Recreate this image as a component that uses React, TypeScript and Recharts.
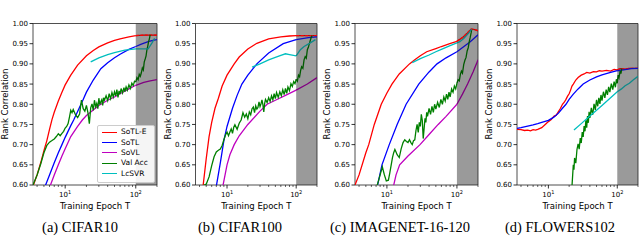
import React from 'react';
import { LineChart, Line, XAxis, YAxis, ReferenceArea } from 'recharts';

type Pt = [number, number];

const xTicks = [4, 5, 6, 7, 8, 9, 10, 20, 30, 40, 50, 60, 70, 80, 90, 100, 200];
const yTicks = [0.6, 0.65, 0.7, 0.75, 0.8, 0.85, 0.9, 0.95, 1.0];

// (a) CIFAR10
const c10SoTLE: Pt[] = [[3.5,0.597],[4,0.625],[4.5,0.655],[5,0.685],[5.5,0.71],[6,0.738],[6.5,0.762],[7,0.78],[8,0.808],[9,0.83],[10,0.848],[12,0.872],[15,0.897],[20,0.92],[25,0.933],[30,0.942],[40,0.952],[50,0.958],[60,0.962],[80,0.967],[100,0.97],[130,0.971],[160,0.971],[200,0.971]];
const c10SoTL: Pt[] = [[5.2,0.597],[6,0.625],[7,0.655],[8,0.68],[9,0.7],[10,0.718],[12,0.747],[13.2,0.761],[15,0.782],[18,0.812],[20,0.83],[25,0.86],[32,0.888],[40,0.903],[50,0.915],[60,0.924],[80,0.936],[100,0.943],[120,0.949],[150,0.955],[175,0.958],[200,0.96]];
const c10SoVL: Pt[] = [[6.1,0.597],[7,0.625],[8,0.65],[9,0.672],[10,0.69],[12,0.72],[15,0.745],[17.5,0.761],[20,0.772],[25,0.786],[30,0.797],[40,0.81],[50,0.818],[60,0.826],[80,0.838],[100,0.847],[130,0.854],[160,0.858],[200,0.861]];
const c10ValAcc: Pt[] = [[3.5,0.6],[4,0.625],[4.5,0.652],[5,0.68],[5.5,0.698],[6,0.706],[6.5,0.71],[7,0.714],[7.5,0.72],[8,0.727],[8.5,0.722],[9,0.728],[9.5,0.733],[10,0.741],[10.5,0.745],[11,0.752],[11.5,0.768],[12,0.785],[12.5,0.779],[13,0.787],[14,0.774],[15,0.767],[16,0.776],[17,0.81],[18,0.789],[19,0.783],[20,0.797],[21,0.779],[22,0.752],[23,0.791],[24,0.801],[25,0.785],[26,0.81],[27,0.794],[28,0.802],[29,0.789],[30,0.815],[31,0.799],[32,0.806],[33,0.811],[34,0.797],[35,0.816],[36,0.81],[38,0.821],[40,0.809],[42,0.826],[44,0.814],[46,0.829],[48,0.818],[50,0.831],[52,0.821],[54,0.836],[56,0.817],[58,0.833],[60,0.825],[62,0.839],[65,0.828],[68,0.841],[70,0.831],[73,0.843],[76,0.835],[80,0.848],[84,0.839],[88,0.852],[92,0.846],[96,0.857],[100,0.855],[104,0.866],[108,0.861],[112,0.874],[116,0.869],[120,0.878],[124,0.89],[128,0.885],[132,0.905],[136,0.912],[140,0.92],[144,0.935],[148,0.944],[152,0.955],[156,0.962],[160,0.972]];
const c10LcSVR: Pt[] = [[23,0.905],[30,0.915],[40,0.923],[50,0.928],[70,0.934],[100,0.937],[120,0.937],[150,0.937],[170,0.952],[185,0.963]];

// (b) CIFAR100
const c100SoTLE: Pt[] = [[4.5,0.597],[5,0.665],[5.5,0.72],[6,0.755],[6.7,0.79],[7.5,0.815],[8.5,0.845],[10,0.872],[12.7,0.9],[15,0.917],[20,0.937],[27,0.951],[40,0.962],[60,0.967],[80,0.969],[100,0.97],[150,0.97],[200,0.97]];
const c100SoTL: Pt[] = [[7,0.597],[8,0.655],[9,0.71],[10,0.745],[12,0.79],[14,0.822],[16.4,0.85],[20,0.872],[27,0.9],[40,0.927],[65,0.95],[100,0.96],[150,0.965],[200,0.967]];
const c100SoVL: Pt[] = [[8.7,0.597],[10,0.65],[11,0.675],[12.7,0.7],[15,0.722],[20,0.75],[30,0.783],[38,0.8],[50,0.81],[70,0.822],[100,0.835],[145,0.85],[200,0.866]];
const c100ValAcc: Pt[] = [[4.3,0.597],[5,0.602],[5.5,0.62],[6,0.648],[6.5,0.67],[7,0.682],[7.5,0.686],[8,0.689],[8.5,0.698],[9,0.712],[9.5,0.724],[10,0.731],[10.5,0.722],[11,0.731],[11.5,0.739],[12,0.728],[12.5,0.743],[13,0.749],[14,0.738],[15,0.753],[16,0.761],[17,0.779],[18,0.768],[19,0.776],[20,0.764],[21,0.781],[22,0.774],[23,0.789],[24,0.793],[25,0.779],[26,0.796],[27,0.788],[28,0.792],[29,0.806],[30,0.794],[31,0.801],[32,0.811],[33,0.799],[34,0.781],[35,0.802],[36,0.812],[38,0.804],[40,0.816],[42,0.807],[44,0.821],[46,0.811],[48,0.826],[50,0.814],[52,0.829],[55,0.817],[58,0.831],[61,0.821],[64,0.836],[67,0.824],[70,0.839],[73,0.827],[76,0.843],[80,0.834],[84,0.851],[88,0.844],[92,0.856],[96,0.851],[100,0.862],[104,0.857],[108,0.872],[112,0.868],[116,0.884],[120,0.893],[125,0.889],[130,0.91],[135,0.918],[140,0.914],[145,0.935],[150,0.941],[155,0.95],[160,0.958],[165,0.966],[170,0.97]];
const c100LcSVR: Pt[] = [[23,0.892],[30,0.9],[40,0.91],[50,0.916],[60,0.921],[70,0.925],[80,0.923],[100,0.92],[115,0.935],[130,0.943],[160,0.952],[190,0.96]];

// (c) IMAGENET-16-120
const im16SoTLE: Pt[] = [[3.5,0.6],[4,0.625],[5,0.68],[5.5,0.7],[6.6,0.75],[8.3,0.8],[10,0.828],[11.8,0.85],[15,0.875],[21,0.9],[25,0.91],[30,0.92],[37,0.93],[50,0.938],[60,0.943],[79,0.95],[100,0.956],[120,0.965],[140,0.976],[160,0.986],[180,0.985],[200,0.982]];
const im16SoTL: Pt[] = [[7.3,0.597],[8.5,0.65],[10.8,0.7],[14,0.75],[18.8,0.8],[28.5,0.85],[40,0.88],[52,0.9],[70,0.915],[100,0.93],[155,0.955],[200,0.972]];
const im16SoVL: Pt[] = [[12.4,0.597],[13.5,0.625],[15.2,0.65],[20,0.672],[29.7,0.7],[40,0.725],[54,0.75],[70,0.77],[100,0.8],[120,0.825],[142,0.85],[170,0.88],[190,0.9],[200,0.91]];
const im16ValAcc: Pt[] = [[7.2,0.597],[8,0.625],[8.6,0.645],[9.2,0.625],[9.8,0.61],[10.5,0.612],[11,0.63],[12,0.668],[12.5,0.68],[13,0.688],[13.5,0.682],[14,0.675],[15,0.668],[16,0.69],[17,0.705],[18,0.712],[19,0.708],[20,0.705],[21,0.712],[22,0.705],[23,0.7],[24,0.71],[25,0.712],[26,0.735],[27,0.75],[28,0.73],[29,0.755],[30,0.745],[31,0.775],[32,0.76],[33,0.715],[34,0.74],[35,0.765],[36,0.755],[37,0.78],[38,0.77],[40,0.79],[42,0.775],[44,0.795],[46,0.78],[48,0.8],[50,0.788],[53,0.805],[56,0.792],[59,0.812],[62,0.8],[65,0.818],[68,0.808],[71,0.825],[74,0.812],[77,0.83],[80,0.818],[84,0.838],[88,0.83],[92,0.845],[96,0.838],[100,0.852],[104,0.861],[108,0.858],[112,0.874],[116,0.882],[120,0.877],[125,0.898],[130,0.909],[135,0.916],[140,0.932],[145,0.94],[150,0.955],[155,0.966],[160,0.978],[163,0.986]];
const im16LcSVR: Pt[] = [[23,0.903],[30,0.913],[40,0.922],[50,0.93],[60,0.936],[80,0.945],[100,0.952],[110,0.955],[125,0.963],[145,0.975],[163,0.986]];

// (d) FLOWERS102
const flSoTLE: Pt[] = [[3.5,0.738],[4,0.737],[4.5,0.735],[5,0.736],[5.5,0.734],[6,0.737],[6.5,0.736],[7,0.738],[8,0.742],[9,0.75],[10,0.757],[11,0.762],[12,0.77],[13,0.773],[14,0.782],[15,0.79],[16,0.8],[17,0.805],[18,0.812],[19,0.82],[20,0.826],[21,0.835],[22,0.845],[23,0.85],[25,0.86],[27,0.866],[30,0.872],[33,0.875],[36,0.879],[40,0.877],[45,0.881],[50,0.88],[55,0.883],[60,0.882],[70,0.884],[80,0.882],[90,0.886],[100,0.885],[110,0.888],[130,0.887],[150,0.889],[200,0.889]];
const flSoTL: Pt[] = [[3.5,0.74],[4,0.742],[5,0.746],[6,0.749],[7,0.752],[8,0.755],[10,0.76],[12,0.768],[14,0.778],[16,0.79],[18,0.8],[20,0.812],[23,0.825],[27,0.838],[32,0.85],[40,0.86],[50,0.868],[60,0.873],[80,0.879],[100,0.883],[130,0.886],[160,0.888],[200,0.889]];
const flValAcc: Pt[] = [[22,0.597],[23,0.65],[23.5,0.638],[24,0.667],[25,0.654],[26,0.688],[27,0.702],[28,0.689],[29,0.716],[30,0.704],[31,0.731],[32,0.719],[33,0.746],[34,0.733],[35,0.76],[36,0.742],[37,0.771],[38,0.754],[39,0.781],[40,0.766],[42,0.791],[44,0.774],[46,0.801],[48,0.786],[50,0.811],[52,0.795],[54,0.816],[56,0.801],[58,0.823],[60,0.809],[63,0.831],[66,0.816],[69,0.836],[72,0.823],[75,0.843],[78,0.83],[82,0.851],[86,0.836],[90,0.856],[94,0.842],[97,0.862],[100,0.852],[103,0.872],[106,0.866],[110,0.882],[113,0.876],[116,0.888]];
const flLcSVR: Pt[] = [[23.5,0.736],[30,0.752],[40,0.771],[50,0.785],[60,0.797],[80,0.816],[100,0.831],[115,0.838],[130,0.846],[150,0.852],[170,0.86],[200,0.869]];

// [normal colour, colour under the grey span]
const RED = ['#ff0000', '#a01010'];
const BLUE = ['#0000ff', '#1010c0'];
const MAGENTA = ['#bf00bf', '#800080'];
const GREEN = ['#008000', '#005a00'];
const CYAN = ['#00bfbf', '#108a8a'];

const legendItems = [
  { name: 'SoTL-E', color: RED[0] },
  { name: 'SoTL', color: BLUE[0] },
  { name: 'SoVL', color: MAGENTA[0] },
  { name: 'Val Acc', color: GREEN[0] },
  { name: 'LcSVR', color: CYAN[0] },
];

type Series = { key: string; pts: Pt[]; colors: string[]; dashedTail?: boolean };

const FONT = '"DejaVu Sans", sans-serif';

const XTick = (props: any) => {
  const { x, y, payload } = props;
  const v = payload.value;
  const major = v === 10 || v === 100;
  return (
    <g>
      <line x1={x} x2={x} y1={y} y2={y + (major ? 3.5 : 2)} stroke="#000" strokeWidth={major ? 0.8 : 0.6} />
      {major && (
        <text x={x} y={y + 12} textAnchor="middle" fontSize={7} fontFamily={FONT} fill="#000">
          10<tspan fontSize={5} dy={-3.5}>{v === 10 ? '1' : '2'}</tspan>
        </text>
      )}
    </g>
  );
};

const toRows = (pts: Pt[]) => pts.map(([e, v]) => ({ e, v }));

function Panel({ left, plotLeft, plotRight, caption, series, legend }: {
  left: number; plotLeft: number; plotRight: number; caption: string; series: Series[]; legend?: boolean;
}) {
  const lines: React.ReactNode[] = [];
  series.forEach((s) => {
    const light = s.pts.filter((p) => p[0] <= 100);
    const dark = s.pts.filter((p) => p[0] >= 100);
    if (light.length > 1) {
      lines.push(
        <Line key={s.key + 'l'} data={toRows(light)} dataKey="v" type="linear" stroke={s.colors[0]}
          strokeWidth={1.3} dot={false} isAnimationActive={false} />
      );
    }
    if (dark.length > 1) {
      lines.push(
        <Line key={s.key + 'd'} data={toRows(dark)} dataKey="v" type="linear" stroke={s.colors[1]}
          strokeWidth={1.3} dot={false} isAnimationActive={false} />
      );
      if (s.dashedTail) {
        lines.push(
          <Line key={s.key + 'x'} data={toRows(dark)} dataKey="v" type="linear" stroke={s.colors[0]}
            strokeWidth={1.3} strokeDasharray="3 1.5" dot={false} isAnimationActive={false} />
        );
      }
    }
  });

  const yLabelX = plotLeft - 28;
  return (
    <div style={{ position: 'absolute', left, top: 0, width: 160, height: 247 }}>
      <LineChart width={160} height={215} margin={{ top: 23.5, right: 160 - plotRight, bottom: 0, left: 0 }}>
        <XAxis dataKey="e" type="number" scale="log" domain={[3.5, 200]} allowDataOverflow ticks={xTicks}
          interval={0} tick={(p: any) => <XTick {...p} />} tickLine={false} axisLine={false}
          tickSize={0} tickMargin={0} height={30} />
        <YAxis type="number" domain={[0.6, 1.0]} allowDataOverflow ticks={yTicks} width={plotLeft}
          tickFormatter={(v: number) => v.toFixed(2)} tickSize={3.5} tickMargin={1.5} axisLine={false}
          tickLine={{ stroke: '#000', strokeWidth: 0.8 }}
          tick={{ fontSize: 7, fill: '#000', fontFamily: FONT }} />
        <ReferenceArea x1={100} x2={200} y1={0.6} y2={1.0} fill="#9a9a9a" fillOpacity={1} stroke="none" />
        {lines}
        <ReferenceArea x1={3.5} x2={200} y1={0.6} y2={1.0} fill="none" stroke="#222" strokeWidth={0.8} />
      </LineChart>
      <div style={{
        position: 'absolute', left: yLabelX - 60, top: 98, width: 120, height: 12, lineHeight: '12px',
        transform: 'rotate(-90deg)', textAlign: 'center', fontSize: 8.5, fontFamily: FONT, color: '#000',
      }}>Rank Correlation</div>
      <div style={{
        position: 'absolute', left: plotLeft - 20, top: 201, width: plotRight - plotLeft + 40, lineHeight: '10px',
        textAlign: 'center', fontSize: 8.5, fontFamily: FONT, color: '#000',
      }}>Training Epoch T</div>
      <div style={{
        position: 'absolute', left: 0, top: 219, width: 160, lineHeight: '16px', textAlign: 'center',
        fontSize: 14.5, fontFamily: '"Liberation Serif", serif', color: '#000', whiteSpace: 'nowrap',
      }}>{caption}</div>
      {legend && (
        <div style={{
          position: 'absolute', left: 97, top: 125, width: 58, height: 58, boxSizing: 'border-box',
          border: '1px solid #cccccc', borderRadius: 2, background: 'rgba(255,255,255,0.9)', paddingTop: 1.2,
        }}>
          {legendItems.map((it) => (
            <div key={it.name} style={{ display: 'flex', alignItems: 'center', height: 10.3 }}>
              <div style={{ width: 15, flexShrink: 0, marginLeft: 4, marginRight: 4, borderTop: `1.3px solid ${it.color}` }} />
              <span style={{ fontSize: 7.5, fontFamily: FONT, color: '#000', lineHeight: '10px', whiteSpace: 'nowrap' }}>{it.name}</span>
            </div>
          ))}
        </div>
      )}
    </div>
  );
}

export default function App() {
  return (
    <div style={{ position: 'absolute', left: 0, top: 0, width: 640, height: 247, background: '#fff', overflow: 'hidden' }}>
      <Panel left={0} plotLeft={33} plotRight={157} caption="(a) CIFAR10" legend series={[
        { key: 'sotle', pts: c10SoTLE, colors: RED, dashedTail: true },
        { key: 'sotl', pts: c10SoTL, colors: BLUE },
        { key: 'sovl', pts: c10SoVL, colors: MAGENTA },
        { key: 'val', pts: c10ValAcc, colors: GREEN },
        { key: 'lc', pts: c10LcSVR, colors: CYAN },
      ]} />
      <Panel left={160} plotLeft={35.5} plotRight={157} caption="(b) CIFAR100" series={[
        { key: 'sotle', pts: c100SoTLE, colors: RED, dashedTail: true },
        { key: 'sotl', pts: c100SoTL, colors: BLUE },
        { key: 'sovl', pts: c100SoVL, colors: MAGENTA },
        { key: 'val', pts: c100ValAcc, colors: GREEN },
        { key: 'lc', pts: c100LcSVR, colors: CYAN },
      ]} />
      <Panel left={320} plotLeft={35} plotRight={158} caption="(c) IMAGENET-16-120" series={[
        { key: 'sotle', pts: im16SoTLE, colors: RED, dashedTail: true },
        { key: 'sotl', pts: im16SoTL, colors: BLUE },
        { key: 'sovl', pts: im16SoVL, colors: MAGENTA },
        { key: 'val', pts: im16ValAcc, colors: GREEN },
        { key: 'lc', pts: im16LcSVR, colors: CYAN },
      ]} />
      <Panel left={480} plotLeft={37} plotRight={158} caption="(d) FLOWERS102" series={[
        { key: 'sotle', pts: flSoTLE, colors: RED, dashedTail: true },
        { key: 'sotl', pts: flSoTL, colors: BLUE },
        { key: 'val', pts: flValAcc, colors: GREEN },
        { key: 'lc', pts: flLcSVR, colors: CYAN },
      ]} />
    </div>
  );
}
